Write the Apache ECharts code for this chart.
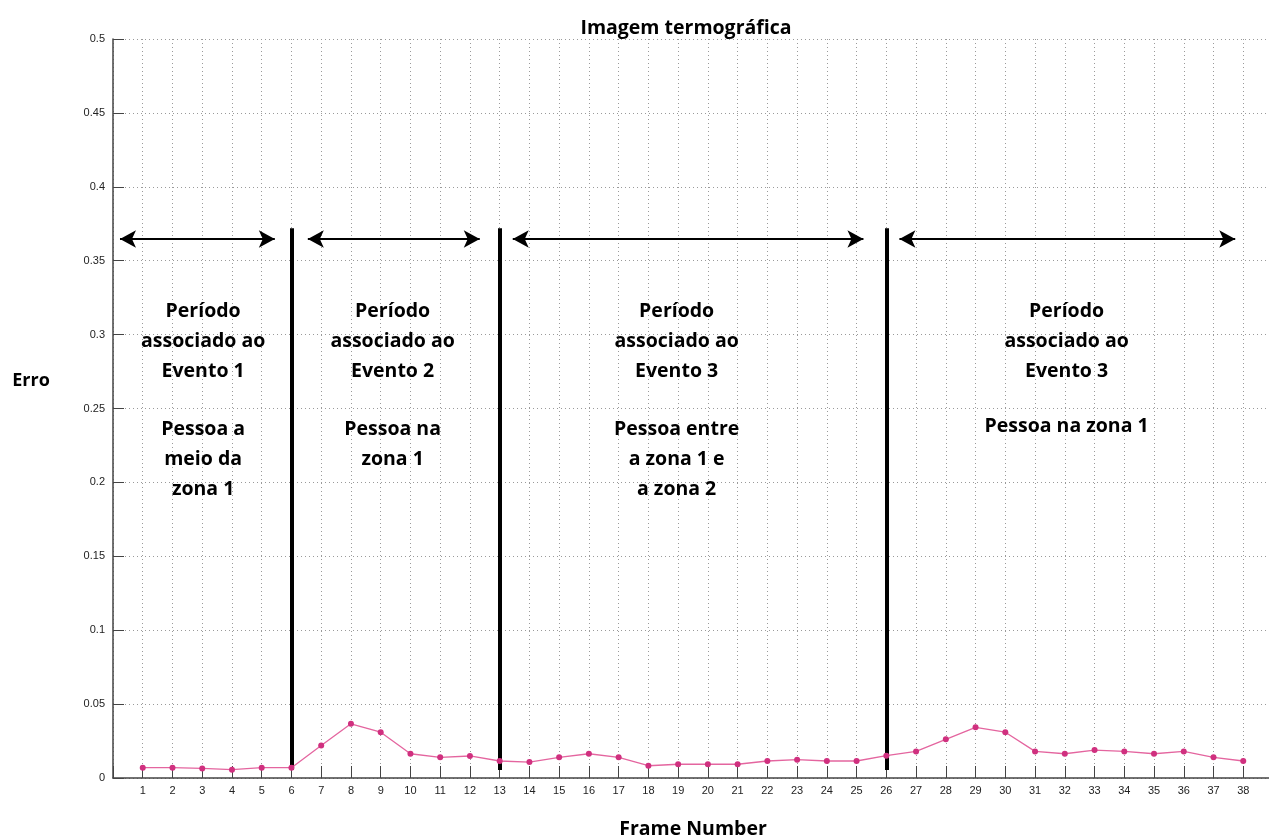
<!DOCTYPE html>
<html>
<head>
<meta charset="utf-8">
<script src="https://cdn.jsdelivr.net/npm/echarts@6/dist/echarts.min.js"></script>
<style>html,body{margin:0;padding:0;background:#fff}#c{width:1269px;height:840px}</style>
</head>
<body>
<div id="c"></div>
<script>
const frames = [1,2,3,4,5,6,7,8,9,10,11,12,13,14,15,16,17,18,19,20,21,22,23,24,25,26,27,28,29,30,31,32,33,34,35,36,37,38];
const erro = [0.007,0.007,0.0065,0.0056,0.007,0.007,0.022,0.0367,0.031,0.0164,0.014,0.0149,0.0115,0.0108,0.014,0.0164,0.014,0.0083,0.0093,0.0093,0.0093,0.0115,0.0124,0.0115,0.0115,0.0151,0.018,0.0262,0.0343,0.031,0.018,0.0164,0.0189,0.018,0.0164,0.018,0.014,0.0115];
const dividerFrames = [6, 13, 26];
const dividerRange = [0.0054, 0.372];
const arrowStarts = [0.235, 6.55, 13.44, 26.44];
const arrowEnds = [5.44, 12.33, 25.23, 37.73];
const arrowLevel = 0.3647;
const periodCenters = [3.03, 9.4, 18.95, 32.06];
const periodTitles = ['Período\nassociado ao\nEvento 1','Período\nassociado ao\nEvento 2','Período\nassociado ao\nEvento 3','Período\nassociado ao\nEvento 3'];
const periodTitleY = [0.2955, 0.2955, 0.2955, 0.2955];
const periodNotes = ['Pessoa a\nmeio da\nzona 1','Pessoa na\nzona 1','Pessoa entre\na zona 1 e\na zona 2','Pessoa na zona 1'];
const periodNoteY = [0.2155, 0.2256, 0.2155, 0.2378];

const chart = echarts.init(document.getElementById('c'));
const textFont = '"Open Sans", Lato, sans-serif';

const annoLabel = {
  show: true, position: 'inside',
  formatter: p => p.name,
  fontFamily: textFont, fontWeight: 'bold', fontSize: 19.5, lineHeight: 30,
  color: '#000', opacity: 1, align: 'center', verticalAlign: 'middle'
};

const series = [
  {
    type: 'line',
    data: frames.map((f, i) => [f, erro[i]]),
    symbol: 'circle',
    symbolSize: 6,
    lineStyle: { color: '#e4659f', width: 1.3 },
    itemStyle: { color: '#d0307f' },
    z: 5,
    markLine: {
      silent: true,
      symbol: ['arrow', 'arrow'],
      symbolSize: [13, 16],
      label: { show: false },
      lineStyle: { color: '#000', width: 2, type: 'solid' },
      data: arrowStarts.map((s, i) => [
        { coord: [s, arrowLevel] },
        { coord: [arrowEnds[i], arrowLevel] }
      ])
    }
  },
  {
    type: 'line',
    data: [],
    markLine: {
      silent: true,
      symbol: ['none', 'none'],
      label: { show: false },
      lineStyle: { color: '#000', width: 4, type: 'solid' },
      data: dividerFrames.map(f => [
        { coord: [f, dividerRange[0]] },
        { coord: [f, dividerRange[1]] }
      ])
    },
    z: 4
  },
  {
    type: 'scatter',
    symbolSize: 0,
    silent: true,
    itemStyle: { opacity: 1 },
    data: periodCenters.map((x, i) => ({ value: [x, periodTitleY[i]], name: periodTitles[i] })),
    label: annoLabel
  },
  {
    type: 'scatter',
    symbolSize: 0,
    silent: true,
    itemStyle: { opacity: 1 },
    data: periodCenters.map((x, i) => ({ value: [x, periodNoteY[i]], name: periodNotes[i] })),
    label: annoLabel
  }
];

chart.setOption({
  animation: false,
  title: [
    {
      text: 'Imagem termográfica',
      left: 681, top: 13, textAlign: 'center',
      textStyle: { fontFamily: textFont, fontWeight: 'bold', fontSize: 19.5, color: '#000' }
    },
    {
      text: 'Erro',
      left: 26, top: 367, textAlign: 'center',
      textStyle: { fontFamily: textFont, fontWeight: 'bold', fontSize: 18, color: '#000' }
    }
  ],
  grid: { left: 113, right: -4, top: 39, bottom: 62, containLabel: false, outerBoundsMode: 'none' },
  xAxis: {
    type: 'value', min: 0, max: 39, interval: 1,
    name: 'Frame Number', nameLocation: 'middle', nameGap: 41,
    nameTextStyle: { fontFamily: textFont, fontWeight: 'bold', fontSize: 19.5, color: '#000' },
    axisLine: { onZero: false, lineStyle: { color: '#444', width: 1.5 } },
    axisTick: { inside: true, length: 12, lineStyle: { color: '#444' } },
    axisLabel: {
      margin: 7, fontFamily: 'Liberation Sans, Arial, sans-serif', fontSize: 11, color: '#222',
      formatter: v => (v >= 1 && v <= 38) ? String(v) : ''
    },
    splitLine: { show: true, lineStyle: { color: '#9a9a9a', type: [1, 3], width: 1 } }
  },
  yAxis: {
    type: 'value', min: 0, max: 0.5, interval: 0.05,
    axisLine: { show: true, lineStyle: { color: '#444', width: 1.5 } },
    axisTick: { show: true, inside: true, length: 11, lineStyle: { color: '#444' } },
    axisLabel: {
      margin: 8, fontFamily: 'Liberation Sans, Arial, sans-serif', fontSize: 11, color: '#222',
      formatter: v => String(Math.round(v * 100) / 100)
    },
    splitLine: { show: true, lineStyle: { color: '#9a9a9a', type: [1, 3], width: 1 } }
  },
  series: series
});
</script>
</body>
</html>
